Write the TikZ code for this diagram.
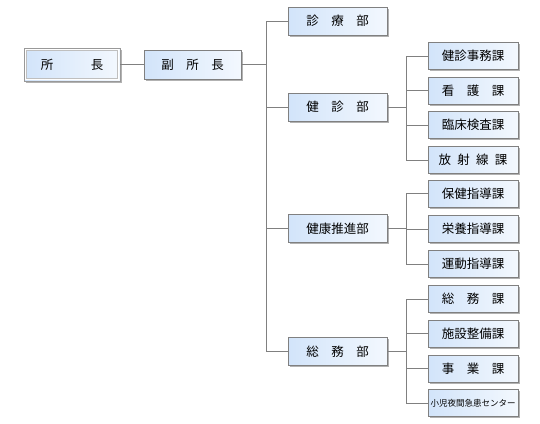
\documentclass[tikz,border=0pt]{standalone}
\usepackage{fontspec}
\setmainfont{Noto Sans CJK JP}
\usetikzlibrary{shadows}
\definecolor{boxleft}{HTML}{D2E4FA}
\definecolor{boxright}{HTML}{F3F8FE}
\begin{document}
\begin{tikzpicture}[x=1pt,y=-1pt,
    box/.style={draw=black!50,left color=boxleft,right color=boxright,inner sep=0pt,
        drop shadow={shadow xshift=1.5pt,shadow yshift=-1.5pt,fill=black!60,opacity=.5},
        font=\fontsize{12.5}{14}\selectfont},
    head/.style={box,minimum width=96pt,minimum height=33pt,draw=black!40},
    dept/.style={box,minimum width=99pt,minimum height=28pt},
    sect/.style={box,minimum width=90pt,minimum height=27pt},
    link/.style={draw=black!50,line width=.6pt}]
    \useasboundingbox (0,0) rectangle (540,423);
    \node[head] (sho) at (72,64.5) {所　　　長};
    \draw[white,line width=1.6pt] ([shift={(1.6,1.6)}]sho.north west) rectangle ([shift={(-1.6,-1.6)}]sho.south east);
    \draw[black!25,line width=.6pt] ([shift={(2.8,2.8)}]sho.north west) rectangle ([shift={(-2.8,-2.8)}]sho.south east);
    \node[box,minimum width=97pt,minimum height=29pt] (fuku) at (192.5,64.5) {副　所　長};
    % departments
    \node[dept] (shinryo) at (337.5,21) {診　療　部};
    \node[dept] (kenshin) at (337.5,107) {健　診　部};
    \node[dept] (suishin) at (337.5,228.5) {健康推進部};
    \node[dept] (somu) at (337.5,351.5) {総　務　部};
    % sections
    \foreach \n/\y/\t in {kjimu/56/健診事務課, kango/90.5/看　護　課,
        rinsho/125/臨床検査課, hosha/160/放\enspace 射\enspace 線\enspace 課,
        hoken/193.5/保健指導課, eiyo/229/栄養指導課, undo/264/運動指導課,
        somuka/299/総　務　課, shisetsu/333.5/施設整備課, jigyo/368.5/事　業　課}
        \node[sect] (\n) at (473,\y) {\t};
    \node[sect,font=\fontsize{8.5}{10}\selectfont] (yakan) at (473,403) {小児夜間急患センター};
    % connectors
    \draw[link] (sho.east) -- (fuku.west);
    \foreach \d in {shinryo,kenshin,suishin,somu}
        \draw[link] (fuku.east) -- ++(25,0) |- (\d.west);
    \foreach \s in {kjimu,kango,rinsho,hosha}
        \draw[link] (kenshin.east) -- ++(19,0) |- (\s.west);
    \foreach \s in {hoken,eiyo,undo}
        \draw[link] (suishin.east) -- ++(19,0) |- (\s.west);
    \foreach \s in {somuka,shisetsu,jigyo,yakan}
        \draw[link] (somu.east) -- ++(19,0) |- (\s.west);
\end{tikzpicture}
\end{document}
